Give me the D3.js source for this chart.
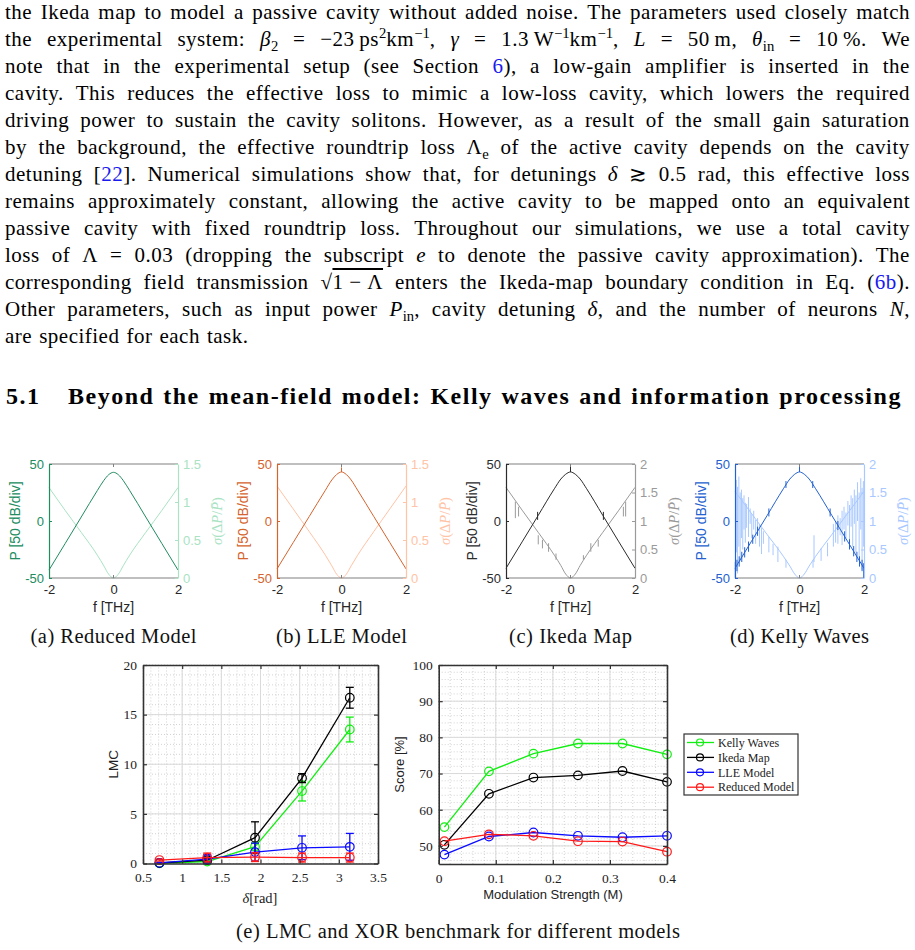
<!DOCTYPE html>
<html>
<head>
<meta charset="utf-8">
<script src="https://cdn.jsdelivr.net/npm/d3@7"></script>
<style>
  body { margin: 0; background: #fff; }
  #page { position: relative; width: 915px; height: 950px; overflow: hidden; }
  .ln { position: absolute; left: 5px; width: 905px; height: 24px; line-height: 24px; display: flex;
        justify-content: space-between; align-items: baseline; white-space: nowrap;
        font-family: "Liberation Serif", serif; font-size: 21px; letter-spacing: 0.5px; color: #000; }
  .ln.last { justify-content: flex-start; gap: 7px; }
  .hd { position: absolute; height: 28px; line-height: 28px; white-space: nowrap; display: flex;
        justify-content: space-between; align-items: baseline;
        font-family: "Liberation Serif", serif; font-size: 24px; letter-spacing: 1.5px; font-weight: bold; }
  a { color: #1a1aee; text-decoration: none; }
  sub, sup { font-size: 70%; line-height: 0; letter-spacing: 0; }
  o { text-decoration: overline; }
  svg { position: absolute; left: 0; top: 0; }
</style>
</head>
<body>
<div id="page"></div>
<script>
// ---- paragraph text, one entry per printed line ----
const textLines = [
  'the Ikeda map to model a passive cavity without added noise. The parameters used closely match',
  'the experimental system: <i>β</i><sub>2</sub> = −23&#8201;ps<sup>2</sup>km<sup>−1</sup>, <i>γ</i> = 1.3&#8201;W<sup>−1</sup>km<sup>−1</sup>, <i>L</i> = 50&#8201;m, <i>θ</i><sub>in</sub> = 10&#8201;%. We',
  'note that in the experimental setup (see Section <a>6</a>), a low-gain amplifier is inserted in the',
  'cavity. This reduces the effective loss to mimic a low-loss cavity, which lowers the required',
  'driving power to sustain the cavity solitons. However, as a result of the small gain saturation',
  'by the background, the effective roundtrip loss Λ<sub>e</sub> of the active cavity depends on the cavity',
  'detuning [<a>22</a>]. Numerical simulations show that, for detunings <i>δ</i> ≳ 0.5 rad, this effective loss',
  'remains approximately constant, allowing the active cavity to be mapped onto an equivalent',
  'passive cavity with fixed roundtrip loss. Throughout our simulations, we use a total cavity',
  'loss of Λ = 0.03 (dropping the subscript <i>e</i> to denote the passive cavity approximation). The',
  'corresponding field transmission √<o>1&nbsp;−&nbsp;Λ</o> enters the Ikeda-map boundary condition in Eq. (<a>6b</a>).',
  'Other parameters, such as input power <i>P</i><sub>in</sub>, cavity detuning <i>δ</i>, and the number of neurons <i>N</i>,',
  'are specified for each task.'
];
const headingNum = '5.1';
const headingText = 'Beyond the mean-field model: Kelly waves and information processing';

// ---- spectra (f in THz, P in dB, sigma dimensionless) ----
const specF = [-2, -1.5, -1, -0.5, -0.3, -0.15, 0, 0.15, 0.3, 0.5, 1, 1.5, 2];
const reducedP = [-43, -19.8, 3.5, 26.8, 35.6, 40.6, 42.7, 40.6, 35.6, 26.8, 3.5, -19.8, -43];
const reducedSigma = [1.19, 0.89, 0.60, 0.30, 0.16, 0.05, 0, 0.05, 0.16, 0.30, 0.60, 0.89, 1.19];
const lleP = [-42, -19, 4, 27, 36, 40.8, 43, 40.8, 36, 27, 4, -19, -42];
const lleSigma = [1.21, 0.91, 0.61, 0.30, 0.16, 0.05, 0, 0.05, 0.16, 0.30, 0.61, 0.91, 1.21];
const ikedaP = [-41.5, -18.3, 5, 28.3, 36.8, 41, 43, 41, 36.8, 28.3, 5, -18.3, -41.5];
const ikedaSigma = [1.59, 1.19, 0.80, 0.40, 0.22, 0.07, 0, 0.07, 0.22, 0.40, 0.80, 1.19, 1.59];
const kellyP = [-41.5, -18.3, 5, 28.3, 36.8, 41, 43, 41, 36.8, 28.3, 5, -18.3, -41.5];
const kellySigma = [1.52, 1.14, 0.76, 0.38, 0.21, 0.07, 0, 0.07, 0.21, 0.38, 0.76, 1.14, 1.52];

// spikes: [f, low, high]
const llePSpikes = [[0, 43, 47]];
const ikedaPSpikes = [[0, 43, 50], [-1.02, 1, 8], [1.02, 1, 8]];
const ikedaSigmaSpikes = [[-1.71, 1.05, 1.34], [-1.61, 1.08, 1.25], [-1.0, 0.59, 0.75], [-0.87, 0.52, 0.67],
  [-0.68, 0.46, 0.61], [-0.45, 0.32, 0.43], [0.40, 0.32, 0.40], [0.63, 0.46, 0.61], [0.86, 0.55, 0.67],
  [1.64, 1.08, 1.25], [1.71, 1.08, 1.34]];
const kellyPSpikes = [[0, 43, 50], [-1.99, -50, -36], [-1.94, -44, -34], [-1.87, -40, -31], [-1.79, -36, -27],
  [-1.70, -32, -23], [-1.58, -27, -18], [-1.45, -20, -12], [-1.30, -13, -5], [-0.95, 4, 11], [-0.42, 29, 35],
  [0.41, 29, 35], [0.95, 4, 11], [1.19, -8, 0], [1.40, -18, -9], [1.55, -25, -16], [1.68, -31, -22],
  [1.78, -36, -27], [1.86, -40, -31], [1.94, -44, -34], [1.99, -50, -37]];
const kellySigmaSpikes = [[-1.96, 0.45, 1.72], [-1.92, 0.08, 1.60], [-1.88, 0.55, 1.78], [-1.84, 0.30, 1.50],
  [-1.80, 0.70, 1.55], [-1.76, 0.50, 1.40], [-1.72, 0.85, 1.45], [-1.68, 0.62, 1.32], [-1.64, 0.88, 1.30],
  [-1.58, 0.72, 1.42], [-1.53, 0.95, 1.22], [-1.48, 0.70, 1.12], [-1.42, 0.85, 1.18], [-1.36, 0.60, 1.02],
  [-1.30, 0.78, 1.05], [-1.24, 0.55, 0.95], [-1.18, 0.42, 0.88], [-1.12, 0.60, 0.82], [-0.95, 0.45, 0.72],
  [-0.82, 0.40, 0.60], [-0.67, 0.28, 0.55], [-0.42, 0.18, 0.32], [0.42, 0.18, 0.32], [0.45, 0.28, 0.75],
  [0.67, 0.30, 0.52], [0.87, 0.38, 0.62], [1.05, 0.55, 0.95], [1.12, 0.62, 1.00], [1.19, 0.60, 1.10],
  [1.26, 0.75, 1.05], [1.32, 0.58, 1.18], [1.38, 0.85, 1.25], [1.44, 0.70, 1.15], [1.50, 0.92, 1.35],
  [1.55, 0.65, 1.28], [1.60, 0.90, 1.45], [1.65, 0.55, 1.40], [1.70, 0.95, 1.55], [1.75, 0.45, 1.45],
  [1.80, 1.00, 1.68], [1.85, 0.35, 1.50], [1.90, 0.85, 1.75], [1.94, 0.15, 1.58], [1.98, 0.55, 1.70]];

// ---- LMC vs detuning ----
const lmcDelta = [0.71, 1.32, 1.93, 2.53, 3.14];
const lmcKelly = [0.02, 0.2, 1.7, 7.3, 13.5];
const lmcKellyErr = [0.05, 0.1, 0.35, 1.0, 1.25];
const lmcIkeda = [0.05, 0.33, 2.6, 8.6, 16.7];
const lmcIkedaErr = [0.05, 0.15, 1.6, 0.45, 1.05];
const lmcLLE = [0.06, 0.45, 1.15, 1.58, 1.68];
const lmcLLEErr = [0.05, 0.45, 0.9, 1.2, 1.35];
const lmcReduced = [0.35, 0.6, 0.65, 0.6, 0.6];
const lmcReducedErr = [0.1, 0.45, 0.45, 0.45, 0.45];

// ---- XOR score vs modulation strength ----
const scoreM = [0.01, 0.088, 0.166, 0.244, 0.322, 0.4];
const scoreKelly = [55.2, 70.6, 75.5, 78.3, 78.3, 75.3];
const scoreIkeda = [50.3, 64.4, 68.9, 69.5, 70.7, 67.7];
const scoreLLE = [47.6, 52.6, 53.7, 52.8, 52.4, 52.8];
const scoreReduced = [51.3, 53.2, 52.8, 51.3, 51.2, 48.4];

const modelNames = ['Kelly Waves', 'Ikeda Map', 'LLE Model', 'Reduced Model'];

// ================= text =================
const page = d3.select('#page');
page.selectAll('div.ln')
  .data(textLines)
  .enter()
  .append('div')
  .attr('class', (d, i) => i === textLines.length - 1 ? 'ln last' : 'ln')
  .style('top', (d, i) => (18.9 + 27.0 * i - 19.2) + 'px')
  .html(d => d.split(' ').map(w => '<span>' + w + '</span>').join(''));

page.append('div').attr('class', 'hd')
  .style('left', '6px').style('top', (404 - 22.5) + 'px')
  .text(headingNum);
page.append('div').attr('class', 'hd')
  .style('left', '68px').style('width', '834px').style('top', (404 - 22.5) + 'px')
  .html(headingText.split(' ').map(w => '<span>' + w + '</span>').join(''));

// ================= charts =================
const svg = page.append('svg').attr('width', 915).attr('height', 950);
const sans = '"Liberation Sans", Arial, sans-serif';
const serif = '"Liberation Serif", "Times New Roman", serif';

const panels = [
  { left: 49, P: reducedP, S: reducedSigma, sMax: 1.5, sTicks: [0, 0.5, 1, 1.5], pc: '#208c60', sc: '#a9e3c3',
    pSp: [], sSp: [], caption: '(a) Reduced Model', capW: 166 },
  { left: 277, P: lleP, S: lleSigma, sMax: 1.5, sTicks: [0, 0.5, 1, 1.5], pc: '#d5632d', sc: '#ffc3a6',
    pSp: llePSpikes, sSp: [], caption: '(b) LLE Model', capW: 131 },
  { left: 506, P: ikedaP, S: ikedaSigma, sMax: 2, sTicks: [0, 0.5, 1, 1.5, 2], pc: '#2b2b2b', sc: '#9a9a9a',
    pSp: ikedaPSpikes, sSp: ikedaSigmaSpikes, caption: '(c) Ikeda Map', capW: 123 },
  { left: 735, P: kellyP, S: kellySigma, sMax: 2, sTicks: [0, 0.5, 1, 1.5, 2], pc: '#2361d0', sc: '#a8c8ff',
    pSp: kellyPSpikes, sSp: kellySigmaSpikes, caption: '(d) Kelly Waves', capW: 139 }
];
const pw = 129, pTop = 464, pBot = 578;

panels.forEach(p => {
  const x = d3.scaleLinear().domain([-2, 2]).range([p.left, p.left + pw]);
  const yP = d3.scaleLinear().domain([-50, 50]).range([pBot, pTop]);
  const yS = d3.scaleLinear().domain([0, p.sMax]).range([pBot, pTop]);
  const g = svg.append('g');

  // sigma curve + spikes
  g.append('path')
    .datum(specF.map((f, i) => [f, p.S[i]]))
    .attr('fill', 'none').attr('stroke', p.sc).attr('stroke-width', 1)
    .attr('d', d3.line().x(d => x(d[0])).y(d => yS(d[1])).curve(d3.curveMonotoneX));
  g.selectAll('line.ss').data(p.sSp).enter().append('line')
    .attr('x1', d => x(d[0])).attr('x2', d => x(d[0]))
    .attr('y1', d => yS(d[1])).attr('y2', d => yS(d[2]))
    .attr('stroke', p.sc).attr('stroke-width', 1);

  // P curve + spikes
  g.append('path')
    .datum(specF.map((f, i) => [f, p.P[i]]))
    .attr('fill', 'none').attr('stroke', p.pc).attr('stroke-width', 1)
    .attr('d', d3.line().x(d => x(d[0])).y(d => yP(d[1])).curve(d3.curveMonotoneX));
  g.selectAll('line.ps').data(p.pSp).enter().append('line')
    .attr('x1', d => x(d[0])).attr('x2', d => x(d[0]))
    .attr('y1', d => yP(d[1])).attr('y2', d => yP(d[2]))
    .attr('stroke', p.pc).attr('stroke-width', 1);

  // frame top / bottom
  [pTop, pBot].forEach((yy, k) => {
    g.append('line').attr('x1', x(-2)).attr('x2', x(2)).attr('y1', yy).attr('y2', yy)
      .attr('stroke', '#808080').attr('stroke-width', 1.2);
    g.append('line').attr('x1', x(0)).attr('x2', x(0)).attr('y1', yy).attr('y2', yy + (k ? -3 : 3))
      .attr('stroke', '#808080');
  });

  // x axis labels
  const xa = g.append('g').attr('transform', `translate(0,${pBot})`)
    .call(d3.axisBottom(x).tickValues([-2, 0, 2]).tickSize(0).tickPadding(7).tickFormat(d => String(d)));
  xa.select('.domain').remove();
  xa.selectAll('text').attr('font-family', sans).attr('font-size', 13).attr('fill', '#262626');

  // left axis
  const la = g.append('g').attr('transform', `translate(${p.left},0)`)
    .call(d3.axisLeft(yP).tickValues([-50, 0, 50]).tickSizeInner(-3).tickSizeOuter(0).tickPadding(5).tickFormat(d => String(d)));
  la.select('.domain').attr('stroke', p.pc).attr('stroke-width', 1.2);
  la.selectAll('line').attr('stroke', p.pc);
  la.selectAll('text').attr('font-family', sans).attr('font-size', 13).attr('fill', p.pc);

  // right axis
  const ra = g.append('g').attr('transform', `translate(${p.left + pw},0)`)
    .call(d3.axisRight(yS).tickValues(p.sTicks).tickSizeInner(-3).tickSizeOuter(0).tickPadding(5).tickFormat(d3.format('')));
  ra.select('.domain').attr('stroke', p.sc).attr('stroke-width', 1.2);
  ra.selectAll('line').attr('stroke', p.sc);
  ra.selectAll('text').attr('font-family', sans).attr('font-size', 13).attr('fill', p.sc);

  // axis titles
  g.append('text').attr('transform', `translate(${p.left - 34},${(pTop + pBot) / 2}) rotate(-90)`)
    .attr('text-anchor', 'middle').attr('dy', '0.35em')
    .attr('font-family', sans).attr('font-size', 14).attr('fill', p.pc).text('P [50 dB/div]');
  const st = g.append('text').attr('transform', `translate(${p.left + pw + 39},${(pTop + pBot) / 2}) rotate(-90)`)
    .attr('text-anchor', 'middle').attr('dy', '0.35em')
    .attr('font-family', serif).attr('font-size', 14.5).attr('fill', p.sc);
  st.append('tspan').attr('font-style', 'italic').text('σ');
  st.append('tspan').text('(Δ');
  st.append('tspan').attr('font-style', 'italic').text('P');
  st.append('tspan').text('/');
  st.append('tspan').attr('font-style', 'italic').text('P\u0304');
  st.append('tspan').text(')');
  g.append('text').attr('x', x(0)).attr('y', 612).attr('text-anchor', 'middle')
    .attr('font-family', sans).attr('font-size', 14).attr('fill', '#262626').text('f [THz]');
  g.append('text').attr('x', x(0)).attr('y', 643).attr('text-anchor', 'middle')
    .attr('font-family', serif).attr('font-size', 20.5).attr('fill', '#111')
    .attr('textLength', p.capW).attr('lengthAdjust', 'spacing').text(p.caption);
});

// ---------- benchmark charts ----------
const modelColors = ['#11ee11', '#000000', '#0a0aff', '#ff1a1a'];

function gridFrame(g, x, y, xMinor, yMinor, xMajor, yMajor) {
  const [x0, x1] = x.range(), [y0, y1] = y.range();
  g.selectAll('line.mnx').data(xMinor).enter().append('line')
    .attr('x1', d => x(d)).attr('x2', d => x(d)).attr('y1', y0).attr('y2', y1)
    .attr('stroke', '#c8c8c8').attr('stroke-width', 0.8).attr('stroke-dasharray', '1,2');
  g.selectAll('line.mny').data(yMinor).enter().append('line')
    .attr('x1', x0).attr('x2', x1).attr('y1', d => y(d)).attr('y2', d => y(d))
    .attr('stroke', '#c8c8c8').attr('stroke-width', 0.8).attr('stroke-dasharray', '1,2');
  g.selectAll('line.mjx').data(xMajor).enter().append('line')
    .attr('x1', d => x(d)).attr('x2', d => x(d)).attr('y1', y0).attr('y2', y1)
    .attr('stroke', '#dadada').attr('stroke-width', 1);
  g.selectAll('line.mjy').data(yMajor).enter().append('line')
    .attr('x1', x0).attr('x2', x1).attr('y1', d => y(d)).attr('y2', d => y(d))
    .attr('stroke', '#dadada').attr('stroke-width', 1);
}

function frameAxes(g, x, y, xTicks, yTicks) {
  const [x0, x1] = x.range(), [y0, y1] = y.range();
  const bx = g.append('g').attr('transform', `translate(0,${y0})`)
    .call(d3.axisBottom(x).tickValues(xTicks).tickSizeInner(-4).tickSizeOuter(0).tickPadding(9).tickFormat(d3.format('')));
  const tx = g.append('g').attr('transform', `translate(0,${y1})`)
    .call(d3.axisTop(x).tickValues(xTicks).tickSizeInner(-4).tickSizeOuter(0).tickFormat(''));
  const ly = g.append('g').attr('transform', `translate(${x0},0)`)
    .call(d3.axisLeft(y).tickValues(yTicks).tickSizeInner(-4).tickSizeOuter(0).tickPadding(6).tickFormat(d3.format('')));
  const ry = g.append('g').attr('transform', `translate(${x1},0)`)
    .call(d3.axisRight(y).tickValues(yTicks).tickSizeInner(-4).tickSizeOuter(0).tickFormat(''));
  [bx, tx, ly, ry].forEach(a => {
    a.select('.domain').attr('stroke', '#333').attr('stroke-width', 1.6);
    a.selectAll('.tick line').attr('stroke', '#333').attr('stroke-width', 1.2);
    a.selectAll('text').attr('font-family', serif).attr('font-size', 13.5).attr('fill', '#222');
  });
}

function drawSeries(g, x, y, xs, ys, errs, color) {
  const pts = xs.map((v, i) => [v, ys[i], errs ? errs[i] : 0]);
  g.append('path').datum(pts).attr('fill', 'none').attr('stroke', color).attr('stroke-width', 1.3)
    .attr('d', d3.line().x(d => x(d[0])).y(d => y(d[1])));
  if (errs) {
    const e = g.selectAll(null).data(pts).enter().append('g').attr('stroke', color).attr('stroke-width', 1.3);
    e.append('line').attr('x1', d => x(d[0])).attr('x2', d => x(d[0]))
      .attr('y1', d => y(d[1] - d[2])).attr('y2', d => y(d[1] + d[2]));
    e.append('line').attr('x1', d => x(d[0]) - 4).attr('x2', d => x(d[0]) + 4)
      .attr('y1', d => y(d[1] + d[2])).attr('y2', d => y(d[1] + d[2]));
    e.append('line').attr('x1', d => x(d[0]) - 4).attr('x2', d => x(d[0]) + 4)
      .attr('y1', d => y(d[1] - d[2])).attr('y2', d => y(d[1] - d[2]));
  }
  g.selectAll(null).data(pts).enter().append('circle')
    .attr('cx', d => x(d[0])).attr('cy', d => y(d[1])).attr('r', 4.3)
    .attr('fill', 'none').attr('stroke', color).attr('stroke-width', 1.2);
}

// LMC chart
{
  const x = d3.scaleLinear().domain([0.5, 3.5]).range([143, 378]);
  const y = d3.scaleLinear().domain([0, 20]).range([863.5, 665]);
  const g = svg.append('g');
  gridFrame(g, x, y, d3.range(0.5, 3.5001, 0.1), d3.range(0, 20.001, 1),
    d3.range(1, 3.5, 0.5), [5, 10, 15]);
  const series = [[lmcKelly, lmcKellyErr, 0], [lmcIkeda, lmcIkedaErr, 1], [lmcLLE, lmcLLEErr, 2], [lmcReduced, lmcReducedErr, 3]];
  series.forEach(s => drawSeries(g, x, y, lmcDelta, s[0], s[1], modelColors[s[2]]));
  frameAxes(g, x, y, d3.range(0.5, 3.5001, 0.5), [0, 5, 10, 15, 20]);
  g.append('text').attr('transform', `translate(113,${(863.5 + 665) / 2}) rotate(-90)`)
    .attr('text-anchor', 'middle').attr('dy', '0.35em')
    .attr('font-family', sans).attr('font-size', 13.5).attr('fill', '#222').text('LMC');
  const xl = g.append('text').attr('x', 260).attr('y', 903).attr('text-anchor', 'middle')
    .attr('font-family', serif).attr('font-size', 14.5).attr('fill', '#222');
  xl.append('tspan').attr('font-style', 'italic').text('δ');
  xl.append('tspan').text('[rad]');
}

// Score chart
{
  const x = d3.scaleLinear().domain([0, 0.4]).range([438.7, 667]);
  const y = d3.scaleLinear().domain([45, 100]).range([864, 665]);
  const g = svg.append('g');
  gridFrame(g, x, y, d3.range(0, 0.4001, 0.02), d3.range(46, 100.001, 2),
    [0.1, 0.2, 0.3], [50, 60, 70, 80, 90]);
  const series = [[scoreKelly, 0], [scoreIkeda, 1], [scoreLLE, 2], [scoreReduced, 3]];
  series.forEach(s => drawSeries(g, x, y, scoreM, s[0], null, modelColors[s[1]]));
  frameAxes(g, x, y, [0, 0.1, 0.2, 0.3, 0.4], [50, 60, 70, 80, 90, 100]);
  g.append('text').attr('transform', `translate(399,${(864 + 665) / 2}) rotate(-90)`)
    .attr('text-anchor', 'middle').attr('dy', '0.35em')
    .attr('font-family', sans).attr('font-size', 13).attr('fill', '#222').text('Score [%]');
  g.append('text').attr('x', 553).attr('y', 899).attr('text-anchor', 'middle')
    .attr('font-family', sans).attr('font-size', 13).attr('fill', '#222').text('Modulation Strength (M)');

  // legend
  const lg = g.append('g').attr('transform', 'translate(684,734)');
  lg.append('rect').attr('width', 114).attr('height', 61).attr('fill', '#fff')
    .attr('stroke', '#333').attr('stroke-width', 1.2);
  const it = lg.selectAll('g.it').data(modelNames).enter().append('g')
    .attr('transform', (d, i) => `translate(0,${8.5 + i * 14.9})`);
  it.append('line').attr('x1', 3).attr('x2', 30).attr('stroke', (d, i) => modelColors[i]).attr('stroke-width', 1.3);
  it.append('circle').attr('cx', 16).attr('r', 3.5).attr('fill', 'none')
    .attr('stroke', (d, i) => modelColors[i]).attr('stroke-width', 1.2);
  it.append('text').attr('x', 34).attr('dy', '0.35em')
    .attr('font-family', serif).attr('font-size', 12).attr('fill', '#222').text(d => d);
}

svg.append('text').attr('x', 458).attr('y', 938).attr('text-anchor', 'middle')
  .attr('font-family', serif).attr('font-size', 20.5).attr('fill', '#111')
  .attr('textLength', 444).attr('lengthAdjust', 'spacing')
  .text('(e) LMC and XOR benchmark for different models');
</script>
</body>
</html>
